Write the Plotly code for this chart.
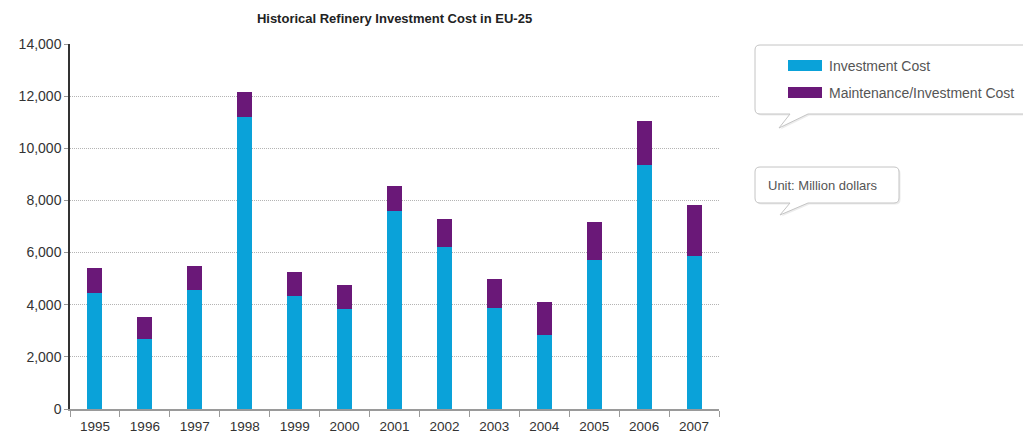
import plotly.graph_objects as go

# Refinery cost data (million dollars)
years = ["1995", "1996", "1997", "1998", "1999", "2000", "2001",
         "2002", "2003", "2004", "2005", "2006", "2007"]
investment_cost = [4450, 2690, 4580, 11190, 4350, 3850, 7580,
                   6230, 3880, 2850, 5730, 9350, 5880]
maintenance_cost = [950, 850, 920, 960, 920, 920, 960,
                    1040, 1120, 1270, 1460, 1690, 1960]
series_names = ["Investment Cost", "Maintenance/Investment Cost"]
series_colors = ["#0aa2d9", "#6a1878"]
y_ticks = [0, 2000, 4000, 6000, 8000, 10000, 12000, 14000]

W_PX, H_PX = 1023, 436
L, R, T, B = 70, 719, 44, 409
PW, PH = R - L, B - T


def px(x):
    return (x - L) / PW


def py(y):
    return (B - y) / PH


def callout(left, top, right, bottom, tail_a, tail_b, tip, r=5):
    """Rounded speech-bubble outline in paper coordinates."""
    pts = []
    pts.append(f"M{px(left + r)},{py(top)}")
    pts.append(f"L{px(right - r)},{py(top)}")
    pts.append(f"Q{px(right)},{py(top)} {px(right)},{py(top + r)}")
    pts.append(f"L{px(right)},{py(bottom - r)}")
    pts.append(f"Q{px(right)},{py(bottom)} {px(right - r)},{py(bottom)}")
    pts.append(f"L{px(tail_b)},{py(bottom)}")
    pts.append(f"L{px(tip[0])},{py(tip[1])}")
    pts.append(f"L{px(tail_a)},{py(bottom)}")
    pts.append(f"L{px(left + r)},{py(bottom)}")
    pts.append(f"Q{px(left)},{py(bottom)} {px(left)},{py(bottom - r)}")
    pts.append(f"L{px(left)},{py(top + r)}")
    pts.append(f"Q{px(left)},{py(top)} {px(left + r)},{py(top)}")
    pts.append("Z")
    return " ".join(pts)


FONT = "Liberation Sans, Arial, sans-serif"

fig = go.Figure()
fig.add_trace(go.Bar(x=years, y=investment_cost, name=series_names[0],
                     marker=dict(color=series_colors[0], line=dict(width=0)),
                     width=0.3))
fig.add_trace(go.Bar(x=years, y=maintenance_cost, name=series_names[1],
                     marker=dict(color=series_colors[1], line=dict(width=0)),
                     width=0.3))

shapes = []
annotations = []

# Legend bubble and unit bubble
for (l, t, r_, b, ta, tb, tip) in [
    (755, 45, 1040, 114, 790, 808, (779, 128)),
    (755, 167, 899, 203, 790, 808, (780, 215)),
]:
    shapes.append(dict(type="path", xref="paper", yref="paper",
                       path=callout(l + 1.5, t + 1.5, r_ + 1.5, b + 1.5, ta + 1.5, tb + 1.5,
                                    (tip[0] + 1.5, tip[1] + 1.5)),
                       line=dict(color="rgba(0,0,0,0)", width=0),
                       fillcolor="#ececec", layer="above"))
    shapes.append(dict(type="path", xref="paper", yref="paper",
                       path=callout(l, t, r_, b, ta, tb, tip),
                       line=dict(color="#c4c4c4", width=1),
                       fillcolor="white", layer="above"))

# Legend swatches and labels
for i, (name, color) in enumerate(zip(series_names, series_colors)):
    y0 = 60 + i * 27
    shapes.append(dict(type="rect", xref="paper", yref="paper",
                       x0=px(788), x1=px(822), y0=py(y0), y1=py(y0 + 11),
                       fillcolor=color, line=dict(width=0), layer="above"))
    annotations.append(dict(xref="paper", yref="paper", x=px(827), y=py(y0 + 6),
                            xanchor="left", yanchor="middle", showarrow=False,
                            text=name, font=dict(family=FONT, size=14, color="#555")))

annotations.append(dict(xref="paper", yref="paper", x=px(766), y=py(186),
                        xanchor="left", yanchor="middle", showarrow=False,
                        text="Unit: Million dollars",
                        font=dict(family=FONT, size=13, color="#555")))

fig.update_layout(
    width=W_PX, height=H_PX,
    margin=dict(l=L, r=W_PX - R, t=T, b=H_PX - B, pad=0, autoexpand=False),
    barmode="stack",
    bargap=0.7,
    showlegend=False,
    plot_bgcolor="white",
    paper_bgcolor="white",
    font=dict(family=FONT, size=14, color="#333"),
    title=dict(text="<b>Historical Refinery Investment Cost in EU-25</b>",
               x=0.5, xref="paper", xanchor="center",
               y=1 - 18 / H_PX, yref="container", yanchor="middle",
               font=dict(family=FONT, size=13, color="#222")),
    xaxis=dict(type="category", range=[-0.5, len(years) - 0.5],
               automargin=False,
               showline=True, linecolor="#9a9a9a", linewidth=2,
               ticks="outside", tickson="boundaries", ticklen=6,
               tickcolor="#9a9a9a", tickwidth=1,
               showgrid=False, tickfont=dict(size=13.5, color="#333"),
               ticklabelstandoff=4),
    yaxis=dict(range=[0, 14000], tickvals=y_ticks, tickformat=",",
               automargin=False,
               showline=True, linecolor="#333", linewidth=1.5,
               ticks="outside", ticklen=4, tickcolor="#999",
               showgrid=True, gridcolor="#b4b4b4", griddash="1px,1px", gridwidth=1,
               zeroline=False, tickfont=dict(size=14, color="#333")),
    shapes=shapes,
    annotations=annotations,
)

fig.write_html("out.html")
